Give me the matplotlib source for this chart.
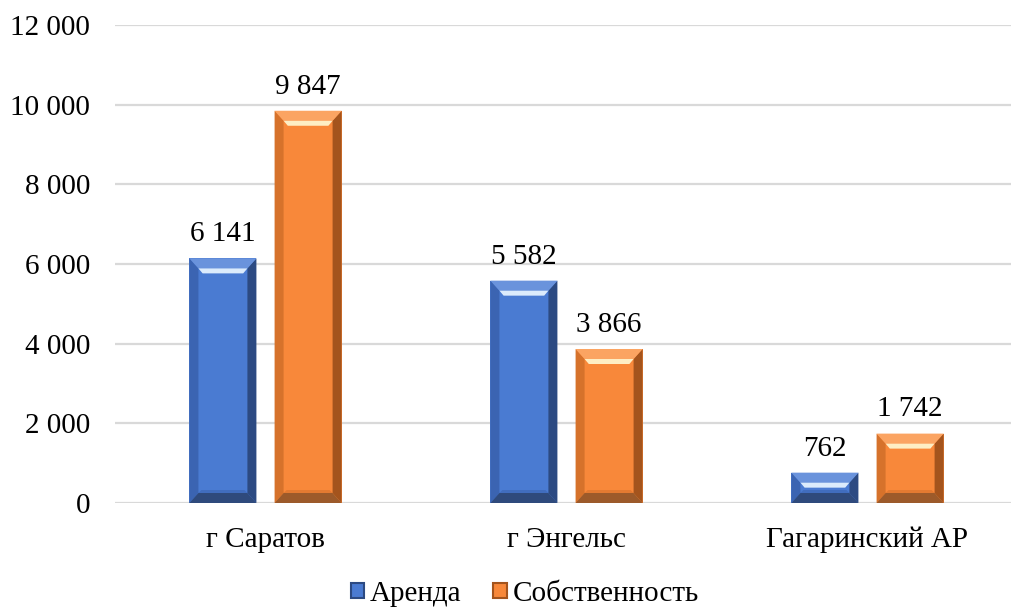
import matplotlib
matplotlib.use("Agg")
import matplotlib.pyplot as plt
from matplotlib.patches import Polygon, Patch
import numpy as np

categories = ["г Саратов", "г Энгельс", "Гагаринский АР"]
arenda = [6141, 5582, 762]
sobstv = [9847, 3866, 1742]
series_names = ["Аренда", "Собственность"]
yticks = [0, 2000, 4000, 6000, 8000, 10000, 12000]

plt.rcParams['font.family'] = ['Liberation Serif', 'DejaVu Serif']

fig = plt.figure(figsize=(10.11, 6.09), dpi=100)
ax = fig.add_axes([115/1011, 1 - 503/609, 1 - 115/1011, (503 - 25)/609])

x = np.arange(len(categories))
w = 0.2226
off = 0.1415

styles = {
    "blue": dict(face="#4a7bd2", left="#3b64b2", right="#2c4a82", top="#6a93dc",
                 bottom="#2f4a7c", hl="#e4f2ff"),
    "orange": dict(face="#f8883a", left="#d6722b", right="#a4541d", top="#fba462",
                   bottom="#9c5a2a", hl="#fff4cc"),
}

b1 = ax.bar(x - off, arenda, w, color=styles["blue"]["face"], zorder=3)
b2 = ax.bar(x + off, sobstv, w, color=styles["orange"]["face"], zorder=3)

bx = 9 / 301
by = 10 * 12000 / 478

def bevel(bars, st):
    for p in bars:
        x0, y0 = p.get_x(), p.get_y()
        x1, y1 = x0 + p.get_width(), y0 + p.get_height()
        ix0, ix1 = x0 + bx, x1 - bx
        iy0, iy1 = y0 + by, y1 - by
        polys = [
            ([(x0, y0), (ix0, iy0), (ix0, iy1), (x0, y1)], st["left"]),
            ([(x1, y0), (ix1, iy0), (ix1, iy1), (x1, y1)], st["right"]),
            ([(x0, y1), (x1, y1), (ix1, iy1), (ix0, iy1)], st["top"]),
            ([(x0, y0), (x1, y0), (ix1, iy0), (ix0, iy0)], st["bottom"]),
        ]
        for pts, c in polys:
            ax.add_patch(Polygon(pts, closed=True, facecolor=c, edgecolor='none', zorder=4))
        hh = 5 * 12000 / 478
        hx = 0.014
        ax.add_patch(Polygon([(ix0, iy1), (ix1, iy1), (ix1 - hx, iy1 - hh), (ix0 + hx, iy1 - hh)],
                             closed=True, facecolor=st["hl"], edgecolor='none', zorder=5, alpha=0.95))
        sh = 3 * 12000 / 478
        ax.add_patch(Polygon([(ix0, iy0), (ix1, iy0), (ix1 - 0.01, iy0 + sh), (ix0 + 0.01, iy0 + sh)],
                             closed=True, facecolor=st["left"], edgecolor='none', zorder=5, alpha=0.6))

bevel(b1, styles["blue"])
bevel(b2, styles["orange"])

def fmt(v):
    return f"{v:,}".replace(",", " ")

for bars, vals in ((b1, arenda), (b2, sobstv)):
    for p, v in zip(bars, vals):
        ax.annotate(fmt(v), (p.get_x() + p.get_width() / 2, p.get_height()),
                    xytext=(0, 8), textcoords='offset points', ha='center', va='bottom',
                    fontsize=21, color='#000000')

ax.set_ylim(0, 12000)
ax.set_xlim(-0.5, (1011 - 265.5) / 301)
ax.set_yticks(yticks)
ax.set_yticklabels([fmt(v) for v in yticks], fontsize=21)
ax.set_xticks(x)
ax.set_xticklabels(categories, fontsize=21)
ax.tick_params(axis='y', length=0, pad=18)
ax.tick_params(axis='x', length=0, pad=17)
ax.grid(axis='y', color='#d9d9d9', linewidth=1.6, zorder=0)
ax.set_axisbelow(True)
for s in ax.spines.values():
    s.set_visible(False)

handles = [Patch(facecolor=styles["blue"]["face"], edgecolor=styles["blue"]["right"], linewidth=1.5),
           Patch(facecolor=styles["orange"]["face"], edgecolor=styles["orange"]["right"], linewidth=1.5)]
fig.legend(handles, series_names, loc='center', bbox_to_anchor=(0.519, 1 - 594/609),
           ncol=2, frameon=False, fontsize=21, handlelength=0.45, handleheight=0.45,
           handletextpad=0.2, columnspacing=1.1, borderaxespad=0, borderpad=0)

fig.savefig("out.png", dpi=100)
